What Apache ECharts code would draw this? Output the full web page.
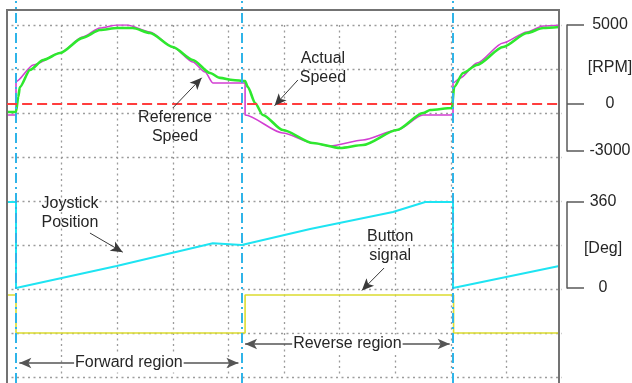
<!DOCTYPE html>
<html>
<head>
<meta charset="utf-8">
<script src="https://cdn.jsdelivr.net/npm/echarts@6/dist/echarts.min.js"></script>
<style>
  html, body { margin: 0; padding: 0; background: #fff; }
  #chart { width: 632px; height: 383px; }
</style>
</head>
<body>
<div id="chart"></div>
<script>
// Time is expressed in screen divisions (0..10 across the plot).

// Reference speed command [RPM]
const refTime  = [0.02, 0.18, 0.18, 0.49, 0.97, 1.38, 1.69, 2.00, 2.18, 2.59, 3.00, 3.36, 3.58, 3.72, 4.30,
                  4.30, 4.98, 5.52, 5.83, 6.42, 7.03, 7.50, 8.04, 8.04, 8.17, 8.47, 8.94, 9.37, 9.66, 9.95];
const refSpeed = [-710, -710, 1400, 2460, 3220, 4240, 4810, 5000, 5000, 4560, 3600, 2650, 2020, 1320, 1320,
                  -710, -1860, -2490, -2680, -2300, -1670, -710, -710, 1320, 1630, 2590, 3860, 4560, 4940, 5000];

// Measured motor speed [RPM]
const actTime  = [0.02, 0.18, 0.22, 0.25, 0.43, 0.67, 0.97, 1.38, 1.69, 2.00, 2.28, 2.59, 3.00, 3.36, 3.67, 3.85,
                  4.08, 4.30, 4.35, 4.48, 4.62, 4.98, 5.52, 6.01, 6.42, 7.03, 7.50, 7.63, 8.02, 8.06, 8.22, 8.47,
                  8.94, 9.37, 9.66, 9.95];
const actSpeed = [-520, -520, 430, 1060, 2140, 2780, 3220, 4180, 4680, 4810, 4810, 4490, 3600, 2780, 1950, 1640,
                  1510, 1440, 1060, 50, -710, -1670, -2490, -2810, -2620, -1670, -590, -400, -270, 1060, 1950, 2460,
                  3600, 4490, 4810, 4870];

// Joystick angle [Deg]
const joyTime  = [0.02, 0.18, 0.18, 1.99, 3.72, 4.24, 5.47, 6.96, 7.54, 8.04, 8.04, 9.95];
const joyAngle = [360, 360, 0, 92, 187, 180, 247, 318, 360, 360, 0, 92];

// Direction button (1 = pressed), held until the next sample
const btnTime  = [0.02, 0.18, 4.30, 8.05, 9.95];
const btnLevel = [1, 0, 1, 0, 0];

// Region boundaries (cursor lines)
const regionBounds = [0.18, 4.24, 8.04];
const regionNames  = ['Forward region', 'Reverse region'];

// Right-hand scales: tick values, and where the unit caption sits
const rpmTicks = [5000, 0, -3000];
const rpmUnit = { text: '[RPM]', at: 2270 };
const degTicks = [360, 0];
const degUnit = { text: '[Deg]', at: 167 };

const pairs = (xs, ys) => xs.map((x, i) => [x, ys[i]]);

const FONT = '"Liberation Sans", Arial, Helvetica, sans-serif';
const TXT = '#262626';
const ARROW = '#3a3a3a';

const textStyle = { color: TXT, fontSize: 16, fontFamily: FONT, lineHeight: 19 };

const hiddenAxis = (gi, min, max) => ({
  gridIndex: gi, type: 'value', min, max, show: false,
  axisLine: { onZero: false }
});

// Bracket-style scale on the right: line, outward ticks, value labels plus a unit caption
const bracketAxis = (gi, min, max, ticks, unit, margin) => ({
  gridIndex: gi, type: 'value', min, max, position: 'right', offset: 5,
  axisLine: { show: true, onZero: false, lineStyle: { color: '#5a5a5a', width: 1.5 } },
  axisTick: { show: true, inside: false, length: 17, customValues: ticks,
              lineStyle: { color: '#5a5a5a', width: 1.5 } },
  axisLabel: { show: true, customValues: ticks.concat([unit.at]), margin, align: 'center',
               formatter: v => (v === unit.at ? unit.text : String(v)),
               color: TXT, fontSize: 16, fontFamily: FONT },
  splitLine: { show: false }
});

const dotted = { color: '#9c9c9c', width: 1.3, type: [2, 3.5] };

const plotX = { left: 6, width: 556, outerBoundsMode: 'none' };

const arrowHead = [8, 12];

const chart = echarts.init(document.getElementById('chart'), null, { renderer: 'canvas' });

chart.setOption({
  animation: false,
  backgroundColor: '#fff',
  grid: [
    // 0: scope frame
    { left: 7, top: 10, right: 73, bottom: -10, show: true, borderColor: '#737373', borderWidth: 2,
      backgroundColor: 'transparent', outerBoundsMode: 'none', z: 5 },
    // 1: dotted graticule
    Object.assign({ top: 25, height: 352 }, plotX),
    // 2: speed
    Object.assign({ top: 25, height: 126 }, plotX),
    // 3: joystick angle
    Object.assign({ top: 202, height: 86 }, plotX),
    // 4: button level
    Object.assign({ top: 200, height: 186.2 }, plotX),
    // 5: cursor lines
    Object.assign({ top: 1, bottom: 0 }, plotX)
  ],
  xAxis: [
    hiddenAxis(0, 0, 1),
    { gridIndex: 1, type: 'value', min: 0, max: 10, interval: 1,
      axisLine: { show: false, onZero: false }, axisTick: { show: false }, axisLabel: { show: false },
      splitLine: { show: true, showMinLine: false, showMaxLine: false, lineStyle: dotted } },
    hiddenAxis(2, 0, 10),
    hiddenAxis(3, 0, 10),
    hiddenAxis(4, 0, 10),
    hiddenAxis(5, 0, 10)
  ],
  yAxis: [
    hiddenAxis(0, 0, 1),
    { gridIndex: 1, type: 'value', min: 0, max: 8, interval: 1,
      axisLine: { show: false, onZero: false }, axisTick: { show: false }, axisLabel: { show: false },
      splitLine: { show: true, lineStyle: dotted } },
    bracketAxis(2, -3000, 5000, rpmTicks, rpmUnit, 43),
    bracketAxis(3, 0, 360, degTicks, degUnit, 36),
    hiddenAxis(4, -1.4, 3.5),
    hiddenAxis(5, -1, 1)
  ],
  series: [
    {
      name: 'Reference Speed', type: 'line', xAxisIndex: 2, yAxisIndex: 2,
      data: pairs(refTime, refSpeed), symbol: 'none', silent: true, z: 3,
      smooth: 0.25, smoothMonotone: 'x',
      lineStyle: { color: '#d23fd2', width: 1.6 },
      markLine: {
        silent: true, symbol: 'none', label: { show: false },
        lineStyle: { color: '#ff3d3d', width: 2, type: [10, 5] },
        data: [[{ coord: [0.02, 0] }, { coord: [9.95, 0] }]]
      }
    },
    {
      name: 'Actual Speed', type: 'line', xAxisIndex: 2, yAxisIndex: 2,
      data: pairs(actTime, actSpeed), symbol: 'none', silent: true, z: 4,
      smooth: 0.25, smoothMonotone: 'x',
      lineStyle: { color: '#2ee82e', width: 2.6 },
      markLine: {
        silent: true, symbol: ['none', 'arrow'], symbolSize: arrowHead, label: { show: false },
        lineStyle: { color: ARROW, width: 1, type: 'solid' },
        data: [
          [{ coord: [3.00, -270] }, { coord: [3.52, 1650] }],
          [{ coord: [5.25, 1508] }, { coord: [4.83, -120] }]
        ]
      },
      markPoint: {
        silent: true, symbol: 'circle', symbolSize: 1, itemStyle: { color: 'rgba(0,0,0,0)' },
        label: Object.assign({ show: true, position: 'inside', formatter: '{b}' }, textStyle),
        data: [
          { name: 'Reference\nSpeed', coord: [3.04, -1476] },
          { name: 'Actual\nSpeed', coord: [5.70, 2270] }
        ]
      }
    },
    {
      name: 'Joystick Position', type: 'line', xAxisIndex: 3, yAxisIndex: 3,
      data: pairs(joyTime, joyAngle), symbol: 'none', silent: true, z: 4,
      lineStyle: { color: '#1ee4f2', width: 2 },
      markLine: {
        silent: true, symbol: ['none', 'arrow'], symbolSize: arrowHead, label: { show: false },
        lineStyle: { color: ARROW, width: 1, type: 'solid' },
        data: [[{ coord: [1.51, 230] }, { coord: [2.10, 150] }]]
      },
      markPoint: {
        silent: true, symbol: 'circle', symbolSize: 1, itemStyle: { color: 'rgba(0,0,0,0)' },
        label: Object.assign({ show: true, position: 'inside', formatter: '{b}' }, textStyle),
        data: [{ name: 'Joystick\nPosition', coord: [1.15, 312] }]
      }
    },
    {
      name: 'Button signal', type: 'line', xAxisIndex: 4, yAxisIndex: 4,
      data: pairs(btnTime, btnLevel), step: 'end', symbol: 'none', silent: true, z: 3,
      lineStyle: { color: '#dcdc30', width: 1.6 },
      markLine: {
        silent: true, symbol: ['none', 'arrow'], symbolSize: arrowHead, label: { show: false },
        lineStyle: { color: ARROW, width: 1, type: 'solid' },
        data: [
          [{ coord: [6.80, 1.71] }, { coord: [6.40, 1.12] }],
          [
            { coord: [regionBounds[0] + 0.06, -0.79], symbol: 'arrow',
              lineStyle: { color: '#555', width: 1.5 },
              label: Object.assign({ show: true, position: 'insideMiddle', formatter: regionNames[0],
                                     backgroundColor: '#fff', padding: [0, 1] }, textStyle) },
            { coord: [regionBounds[1] - 0.06, -0.79], symbol: 'arrow' }
          ],
          [
            { coord: [regionBounds[1] + 0.06, -0.29], symbol: 'arrow',
              lineStyle: { color: '#555', width: 1.5 },
              label: Object.assign({ show: true, position: 'insideMiddle', formatter: regionNames[1],
                                     backgroundColor: '#fff', padding: [0, 1] }, textStyle) },
            { coord: [regionBounds[2] - 0.06, -0.29], symbol: 'arrow' }
          ]
        ]
      },
      markPoint: {
        silent: true, symbol: 'circle', symbolSize: 1, itemStyle: { color: 'rgba(0,0,0,0)' },
        label: Object.assign({ show: true, position: 'inside', formatter: '{b}' }, textStyle),
        data: [{ name: 'Button\nsignal', coord: [6.91, 2.29] }]
      }
    },
    {
      name: 'cursors', type: 'line', xAxisIndex: 5, yAxisIndex: 5,
      data: regionBounds.map(t => [t, 0]), symbol: 'none', silent: true,
      lineStyle: { opacity: 0 },
      markLine: {
        silent: true, symbol: 'none', label: { show: false },
        lineStyle: { color: '#30b4e8', width: 2, type: [10, 4, 2, 4] },
        data: regionBounds.map(t => ({ xAxis: t }))
      }
    }
  ]
});
</script>
</body>
</html>
